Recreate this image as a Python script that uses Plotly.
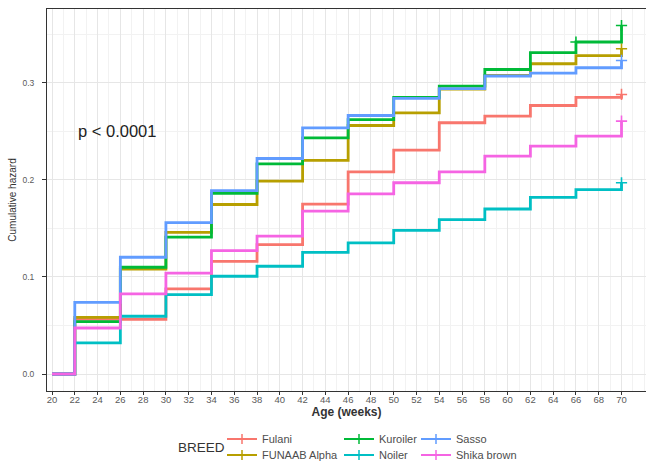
import plotly.graph_objects as go

# ---- data ----
weeks = [20, 22, 26, 30, 34, 38, 42, 46, 50, 54, 58, 62, 66, 70]
breeds = ["Fulani", "FUNAAB Alpha", "Kuroiler", "Noiler", "Sasso", "Shika brown"]
fulani = [0, 0.0564, 0.0564, 0.0876, 0.116, 0.1333, 0.175, 0.2082, 0.2306, 0.2588, 0.2656, 0.2766, 0.285, 0.288]
funaab = [0, 0.0584, 0.108, 0.146, 0.1746, 0.1986, 0.220, 0.256, 0.269, 0.2935, 0.3076, 0.3196, 0.328, 0.335]
kuroiler = [0, 0.054, 0.110, 0.141, 0.186, 0.2165, 0.2433, 0.262, 0.285, 0.2966, 0.3137, 0.331, 0.342, 0.359]
noiler = [0, 0.032, 0.0595, 0.0818, 0.1007, 0.111, 0.1254, 0.135, 0.148, 0.159, 0.170, 0.182, 0.190, 0.197]
sasso = [0, 0.0737, 0.1203, 0.156, 0.189, 0.222, 0.2536, 0.2663, 0.284, 0.294, 0.307, 0.310, 0.3155, 0.323]
shika = [0, 0.0474, 0.0825, 0.104, 0.127, 0.142, 0.1677, 0.1856, 0.197, 0.2082, 0.2244, 0.2347, 0.245, 0.2605]
series = [fulani, funaab, kuroiler, noiler, sasso, shika]
censor_times = [[70], [70], [66, 70], [70], [70], [70]]
x_ticks = list(range(20, 71, 2))
y_ticks = [0.0, 0.1, 0.2, 0.3]
y_tick_labels = ["0.0", "0.1", "0.2", "0.3"]
p_text = "p < 0.0001"

colors = ["#F8766D", "#B79F00", "#00BA38", "#00BFC4", "#619CFF", "#F564E3"]
FONT = "Liberation Sans, Arial, sans-serif"

fig = go.Figure()
for name, vals, col, ct in zip(breeds, series, colors, censor_times):
    fig.add_trace(go.Scatter(x=weeks, y=vals, mode="lines", line=dict(color=col, width=2.8, shape="hv"),
                             showlegend=False, hoverinfo="skip"))
    cy = [vals[weeks.index(t)] for t in ct]
    fig.add_trace(go.Scatter(x=ct, y=cy, mode="markers",
                             marker=dict(symbol="cross-thin", size=8, line=dict(color=col, width=1.6)),
                             showlegend=False, hoverinfo="skip"))

W, H = 646, 464
W0, PW = 47, 599
B0, PH = 391, 382
def px(xp):
    return (xp - W0) / PW
def py(yp):
    return (B0 - yp) / PH

# legend (ggplot-style, column-wise) -- one legend per entry for exact placement
text_x = [262, 262, 379, 379, 456, 456]
row_y = [439, 455, 439, 455, 439, 455]
legends = {}
for i, (name, col) in enumerate(zip(breeds, colors)):
    lid = "legend" if i == 0 else f"legend{i+1}"
    fig.add_trace(go.Scatter(x=[None], y=[None], mode="lines+markers", name=name, legend=lid,
                             line=dict(color=col, width=2),
                             marker=dict(symbol="cross-thin", size=7, line=dict(color=col, width=1.5))))
    legends[lid] = dict(x=px(text_x[i] - 40), y=py(row_y[i]), xanchor="left", yanchor="middle",
                        orientation="v", bgcolor="rgba(0,0,0,0)", borderwidth=0,
                        font=dict(family=FONT, size=11, color="#4D4D4D"))

fig.add_annotation(x=px(176), y=py(447), xref="paper", yref="paper", text="BREED",
                   showarrow=False, xanchor="left", yanchor="middle",
                   font=dict(family=FONT, size=13.5, color="#333333"))
fig.add_annotation(x=25.7, y=0.2505, xref="x", yref="y", text=p_text, showarrow=False,
                   font=dict(family=FONT, size=16.5, color="#222222"))

fig.update_layout(
    width=W, height=H,
    margin=dict(l=W0, r=W - W0 - PW, t=B0 - PH, b=H - B0, autoexpand=False),
    paper_bgcolor="white", plot_bgcolor="white",
    font=dict(family=FONT),
    **legends,
)
fig.update_xaxes(
    range=[19.56, 19.56 + PW / 11.39], tickvals=x_ticks, ticktext=[str(t) for t in x_ticks],
    showgrid=True, gridcolor="#E6E6E6", gridwidth=1,
    minor=dict(dtick=1, tick0=0, showgrid=True, gridcolor="#F2F2F2", gridwidth=0.6),
    showline=True, linecolor="#333333", linewidth=1, mirror=True,
    ticks="outside", ticklen=3, tickcolor="#333333", tickwidth=1, ticklabelstandoff=-3,
    tickfont=dict(family=FONT, size=9.5, color="#5A5A5A"),
    title=dict(text="<b>Age (weeks)</b>", font=dict(family=FONT, size=12, color="#333333"), standoff=2),
    automargin=True, zeroline=False,
)
fig.update_yaxes(
    range=[-0.0175, 0.376], tickvals=y_ticks, ticktext=y_tick_labels,
    showgrid=True, gridcolor="#E6E6E6", gridwidth=1,
    minor=dict(dtick=0.05, tick0=0, showgrid=True, gridcolor="#F2F2F2", gridwidth=0.6),
    showline=True, linecolor="#333333", linewidth=1,
    ticks="outside", ticklen=4, tickcolor="#333333", tickwidth=1, ticklabelstandoff=6,
    tickfont=dict(family=FONT, size=8.5, color="#5A5A5A"),
    title=dict(text="Cumulative hazard", font=dict(family=FONT, size=10, color="#333333"), standoff=3),
    automargin=True, zeroline=False,
)
fig.write_html("out.html", config={"displayModeBar": False},
               post_script="document.body.style.margin='0px';")
